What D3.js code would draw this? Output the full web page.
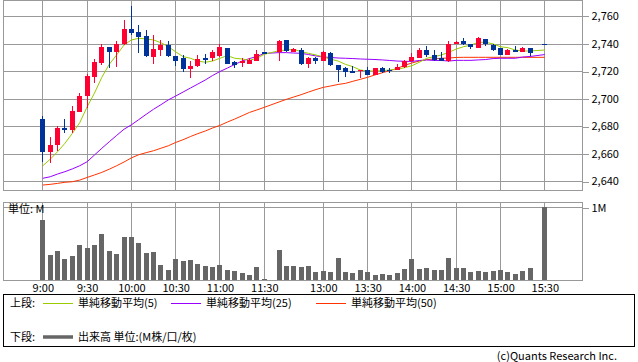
<!DOCTYPE html>
<html><head><meta charset="utf-8">
<script src="https://cdn.jsdelivr.net/npm/d3@7"></script>
<style>
body{margin:0;background:#fff}
svg{display:block}
text{font-family:"Noto Sans CJK JP","Noto Sans",sans-serif;font-size:11px;fill:#000}
</style>
</head><body>
<svg id="c" width="638" height="362"></svg>
<script>
const times = ["9:00","9:05","9:10","9:15","9:20","9:25","9:30","9:35","9:40","9:45","9:50","9:55",
"10:00","10:05","10:10","10:15","10:20","10:25","10:30","10:35","10:40","10:45","10:50","10:55",
"11:00","11:05","11:10","11:15","11:20","11:25","11:30","12:25",
"12:30","12:35","12:40","12:45","12:50","12:55",
"13:00","13:05","13:10","13:15","13:20","13:25","13:30","13:35","13:40","13:45","13:50","13:55",
"14:00","14:05","14:10","14:15","14:20","14:25","14:30","14:35","14:40","14:45","14:50","14:55",
"15:00","15:05","15:10","15:15","15:20","15:25","15:30"];

const openP = [2685,2661,2666,2679,2677,2690,2702,2716,2726,2737.5,2733.5,2739.5,
2750.5,2748.5,2745.5,2730.5,2735,2739,2731,2729.5,2721.5,2724,2729.5,2729.5,
2731,2737,2726.5,2726,2725,2727.5,2733.5,null,
2734,2742.5,2734,2735.5,2725,2729.5,
2727,2733,2724.5,2722,2720,2720,2721,2717,2722.5,2721,2721,2723,
2727,2729.5,2735.5,2731.5,2729.5,2727.5,2740,2741.5,2740,2737,2743.5,2739,
2736.5,2732,2735.5,2734,2737,null,2740];
const highP = [2687.5,2672.5,2680,2685,2694.5,2704,2718,2728.5,2740,2737.5,2742,2757,
2767.5,2753.5,2750,2746,2742.5,2741.5,2731,2732,2727,2731.5,2732.5,2735,
2739.5,2737,2727.5,2729.5,2729.5,2735.5,2733.5,null,
2742.5,2742.5,2736.5,2737,2730,2730.5,
2734.5,2734,2724.5,2723,2724,2721,2723,2722.5,2723,2722,2725,2728,
2733,2736.5,2738.5,2735.5,2733.5,2742,2741.5,2744,2740,2745,2743.5,2740,
2736.5,2736,2738.5,2737.5,2737,null,2740];
const lowP = [2654,2653.5,2662,2675,2675,2690,2693.5,2711,2724.5,2722,2723,2739,
2746.5,2733,2730,2725.5,2731,2730,2724,2719.5,2715,2723,2725.5,2727.5,
2730.5,2725,2722,2723,2725,2727,2733.5,null,
2727,2734,2733.5,2724.5,2722.5,2725,
2727,2724,2712,2716,2719,2715,2717,2717,2718.5,2718.5,2721,2722,
2726.5,2729.5,2730,2727,2727,2726.5,2740,2739,2736,2736.5,2738.5,2734.5,
2731.5,2731.5,2733.5,2734,2731,null,2740];
const closeP = [2661,2666,2679,2677,2691,2702,2716.5,2726.5,2737.5,2733.5,2740,2750.5,
2748,2745,2731,2736,2739,2731,2727.5,2721.5,2724,2729,2729,2733.5,
2737.5,2725.5,2724.5,2727,2728,2732.5,2733.5,null,
2742,2734.5,2736,2725.5,2729.5,2727,
2734,2724.5,2721,2719.5,2719,2721,2717,2722.5,2719.5,2720.5,2723,2727,
2730,2735.5,2731.5,2728,2727.5,2740,2741,2740,2737.5,2744,2739.5,2735.5,
2732,2735.5,2734,2737,2733,null,2740];

const ma5 = [2651.3,2656,2661.5,2667.6,2674.8,2682.5,2694,2704,2715.5,2724.9,2731.7,2738.9,
2742.6,2743.8,2743.3,2742.6,2740.6,2737.7,2734,2730.5,2729.3,2727.3,2726.4,2727.3,
2729.3,2731.2,2729.3,2728.8,2727.8,2729.3,2732.2,null,
2734.8,2735.3,2735.8,2734.1,2732.9,2731.7,
2730.3,2728.6,2727.3,2724.9,2723.2,2720.8,2720.1,2720.1,2720.3,2720.8,2721.3,2722.5,
2723.9,2726.4,2729.3,2730.5,2731.7,2733.6,2736,2737.7,2738.9,2740.9,2740.9,2739.7,
2737.7,2737,2735.3,2734.6,2734.6,null,2735.3];
const ma25 = [2642.2,2643.3,2645.3,2647,2649,2651.3,2654.2,2659.1,2664,2668.7,2673.3,2677.8,
2681,2684.8,2688.6,2692.3,2695.6,2699.1,2701.9,2704.8,2707.7,2710.6,2713.5,2716.8,
2719.7,2722.2,2724.8,2727.3,2729.1,2730.6,2732.8,null,
2733.4,2733.4,2733.1,2732.9,2732,2731,
2730.2,2729.9,2729.5,2729.3,2729.1,2728.8,2728.6,2728.4,2728.1,2727.7,2727.3,2727.1,
2727,2727.7,2728.1,2727.7,2727.7,2727.3,2727.8,2727.8,2727.8,2728.1,2728.4,2729.1,
2729.3,2729.3,2729.3,2730.2,2730.6,null,2732];
const ma50 = [2637.3,2637.8,2638.5,2639.3,2639.7,2640.9,2642.8,2644.6,2646.5,2648.8,2651.3,2654,
2657,2659.3,2660.8,2662.2,2664,2665.8,2668.2,2670.2,2672.5,2674.6,2676.5,2678.7,
2680.6,2683,2685.2,2687.6,2690,2691.8,2693.7,null,
2697.6,2699.5,2701.2,2702.9,2704.8,2706.6,
2708.2,2709.2,2710.3,2711.1,2712.6,2714,2715.5,2717.2,2718.8,2720.3,2722,2724.1,
2725.9,2727.3,2728.3,2728.8,2729.3,2729.5,2729.9,2730,2730,2730,2730,2730,
2730,2730,2730,2730,2730,null,2730];

const volume = [0.825,0.344,0.399,0.289,0.33,0.481,0.445,0.481,0.633,0.399,0.358,0.592,
0.592,0.509,0.371,0.385,0.206,0.138,0.289,0.261,0.275,0.22,0.193,0.179,
0.206,0.138,0.124,0.096,0.069,0.179,0.014,null,
0.413,0.193,0.193,0.179,0.193,0.11,
0.124,0.11,0.303,0.11,0.096,0.138,0.11,0.069,0.083,0.069,0.096,0.151,
0.289,0.151,0.165,0.138,0.138,0.303,0.165,0.165,0.11,0.124,0.11,0.124,
0.138,0.11,0.083,0.124,0.165,null,1.0];

const timeTicks = ["9:00","9:30","10:00","10:30","11:00","11:30","13:00","13:30","14:00","14:30","15:00","15:30"];
const priceTicks = [2640,2660,2680,2700,2720,2740,2760];
const volTicks = [1];

const C = {up:"#ff0033", down:"#003399", ma5:"#99cc00", ma25:"#9900ff", ma50:"#ff3300",
  grid:"#999999", vol:"#666666"};

const svg = d3.select("#c");
const L = 3, R = 583, T1 = 0, B1 = 190, T2 = 201.7, B2 = 280;

const x = d3.scalePoint().domain(times).range([42.3, 544.3]);
const y = d3.scaleLinear().domain([2633.7, 2771.6]).range([B1, T1]);
const v = d3.scaleLinear().domain([0, 1.077]).range([B2, T2]);
const px = t => Math.round(x(t)) + 0.5;
const py = val => Math.round(y(val)) + 0.5;

const g = svg.append("g").attr("shape-rendering","crispEdges");

g.selectAll(".hg").data(priceTicks).join("line")
  .attr("x1",L).attr("x2",R).attr("y1",d=>py(d)).attr("y2",d=>py(d))
  .attr("stroke",C.grid);
g.selectAll(".vg").data(timeTicks).join("line")
  .attr("x1",d=>px(d)).attr("x2",d=>px(d)).attr("y1",T1).attr("y2",B1)
  .attr("stroke",C.grid);
g.selectAll(".vg2").data(timeTicks).join("line")
  .attr("x1",d=>px(d)).attr("x2",d=>px(d)).attr("y1",T2).attr("y2",B2)
  .attr("stroke",C.grid);
g.selectAll(".hg2").data(volTicks).join("line")
  .attr("x1",L).attr("x2",R).attr("y1",d=>Math.round(v(d))+0.5).attr("y2",d=>Math.round(v(d))+0.5)
  .attr("stroke",C.grid);

g.append("rect").attr("x",L+0.5).attr("y",0.5).attr("width",R-L-1).attr("height",B1-0.5)
  .attr("fill","none").attr("stroke",C.grid);
g.append("rect").attr("x",L+0.5).attr("y",Math.round(T2)+0.5).attr("width",R-L-1).attr("height",B2-Math.round(T2)-0.5)
  .attr("fill","none").attr("stroke",C.grid);

const yAxis = svg.append("g").attr("transform",`translate(${R-0.5},0)`)
  .call(d3.axisRight(y).tickValues(priceTicks).tickSize(6).tickPadding(3).tickFormat(d3.format(",")));
yAxis.select(".domain").remove();
yAxis.selectAll("line").attr("stroke",C.grid).attr("shape-rendering","crispEdges")
  .attr("transform","translate(0,0.5)");
yAxis.selectAll("text").attr("fill","#222").style("font-size","11px").attr("font-family",null);

const vAxis = svg.append("g").attr("transform",`translate(${R-0.5},0.5)`)
  .call(d3.axisRight(v).tickValues(volTicks).tickSize(6).tickPadding(3).tickFormat(d=>d+"M"));
vAxis.select(".domain").remove();
vAxis.selectAll("line").attr("stroke",C.grid).attr("shape-rendering","crispEdges");
vAxis.selectAll("text").attr("fill","#222").style("font-size","11px").attr("font-family",null);

const xAxis = svg.append("g").attr("transform",`translate(0.5,${B2})`)
  .call(d3.axisBottom(x).tickValues(timeTicks).tickSize(0).tickPadding(4));
xAxis.select(".domain").remove();
xAxis.selectAll("text").attr("fill","#222").style("font-size","11px").attr("font-family",null);

const idx = d3.range(times.length);
function maLine(arr, color){
  const pts = idx.filter(i => arr[i] != null);
  svg.append("path").datum(pts)
    .attr("d", d3.line().x(i => x(times[i])+0.5).y(i => y(arr[i])))
    .attr("fill","none").attr("stroke",color).attr("stroke-width",1);
}
maLine(ma50, C.ma50);
maLine(ma25, C.ma25);
maLine(ma5, C.ma5);

const cand = idx.filter(i => openP[i] != null);
const cg = svg.append("g").attr("shape-rendering","crispEdges");
const col = i => closeP[i] > openP[i] ? C.up : C.down;
cg.selectAll(".wick").data(cand).join("line")
  .attr("x1",i=>px(times[i])).attr("x2",i=>px(times[i]))
  .attr("y1",i=>y(highP[i])).attr("y2",i=>y(lowP[i]))
  .attr("stroke",col);
cg.selectAll(".body").data(cand).join("rect")
  .attr("x",i=>Math.round(x(times[i]))-2).attr("width",5)
  .attr("y",i=>Math.min(y(openP[i]),y(closeP[i])))
  .attr("height",i=>Math.max(1.5, Math.abs(y(openP[i])-y(closeP[i]))))
  .attr("fill",col);

const vi = idx.filter(i => volume[i] != null);
svg.append("g").attr("shape-rendering","crispEdges").selectAll("rect").data(vi).join("rect")
  .attr("x",i=>Math.round(x(times[i]))-2).attr("width",5)
  .attr("y",i=>v(volume[i])).attr("height",i=>B2-v(volume[i]))
  .attr("fill",C.vol);

svg.append("text").attr("x",8).attr("y",213).text("単位: M");

const lg = svg.append("g");
lg.append("rect").attr("x",3.5).attr("y",294.5).attr("width",631).attr("height",52)
  .attr("fill","none").attr("stroke","#000").attr("shape-rendering","crispEdges");
lg.append("text").attr("x",10).attr("y",307).text("上段:");
const legItems = [
  {x:43, color:C.ma5, label:"単純移動平均(5)"},
  {x:171, color:C.ma25, label:"単純移動平均(25)"},
  {x:316, color:C.ma50, label:"単純移動平均(50)"}
];
legItems.forEach(d=>{
  lg.append("line").attr("x1",d.x).attr("x2",d.x+30).attr("y1",303.5).attr("y2",303.5)
    .attr("stroke",d.color).attr("shape-rendering","crispEdges");
  lg.append("text").attr("x",d.x+35).attr("y",307).text(d.label);
});
lg.append("text").attr("x",10).attr("y",341).text("下段:");
lg.append("line").attr("x1",43).attr("x2",73).attr("y1",337).attr("y2",337)
  .attr("stroke",C.vol).attr("stroke-width",3.5);
lg.append("text").attr("x",78).attr("y",341).text("出来高 単位:(M株/口/枚)");

svg.append("text").attr("x",617).attr("y",360).attr("text-anchor","end")
  .attr("fill","#333").text("(c)Quants Research Inc.");
</script>
</body></html>
